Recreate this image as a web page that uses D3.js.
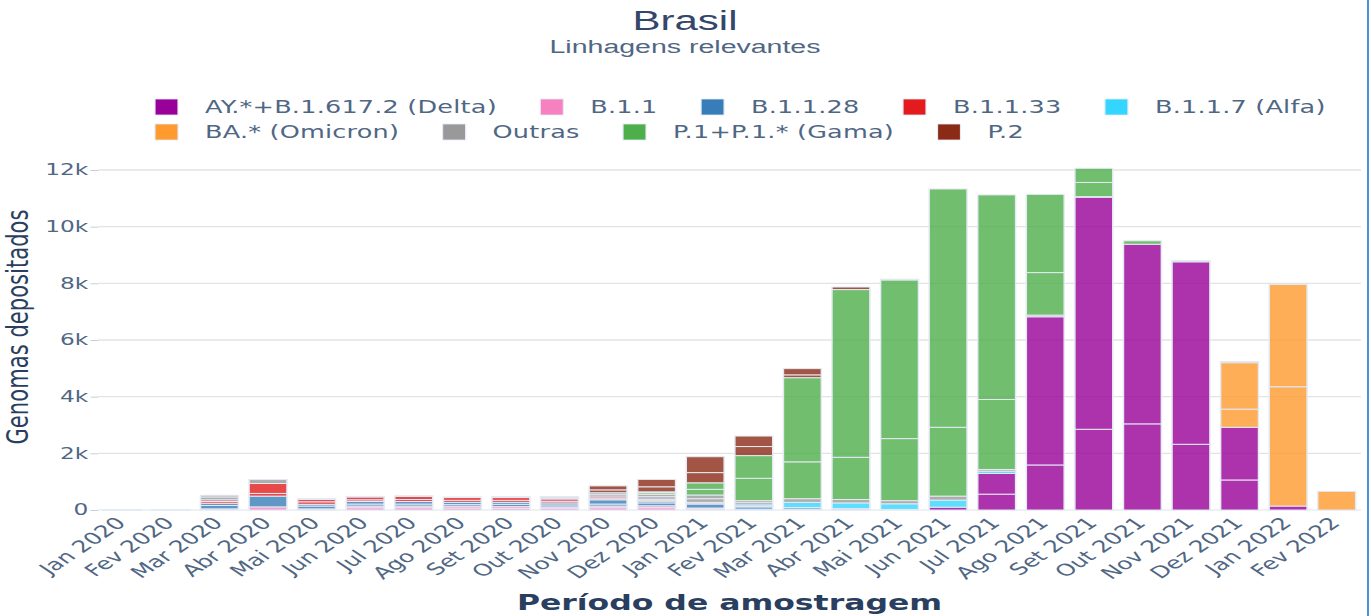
<!DOCTYPE html>
<html><head><meta charset="utf-8">
<script src="https://cdn.jsdelivr.net/npm/d3@7"></script>
<style>body{margin:0;background:#fff;overflow:hidden} svg{display:block}</style>
</head><body>
<svg id="chart" width="1370" height="616"></svg>
<script>
const months = ["Jan 2020","Fev 2020","Mar 2020","Abr 2020","Mai 2020","Jun 2020","Jul 2020","Ago 2020","Set 2020","Out 2020","Nov 2020","Dez 2020","Jan 2021","Fev 2021","Mar 2021","Abr 2021","Mai 2021","Jun 2021","Jul 2021","Ago 2021","Set 2021","Out 2021","Nov 2021","Dez 2021","Jan 2022","Fev 2022"];
const lineages = ["AY.*+B.1.617.2 (Delta)","B.1.1","B.1.1.28","B.1.1.33","B.1.1.7 (Alfa)","BA.* (Omicron)","Outras","P.1+P.1.* (Gama)","P.2"];
const colors = ["#990099","#f781bf","#377eb8","#e41a1c","#33d6ff","#ff9a2e","#999999","#4daf4a","#8b2b16"];
// each month: pieces stacked in order (values = genomes)
const delta  = [[],[],[],[],[],[],[],[],[],[],[],[],[],[],[],[],[],[100],[560,730],[1590,5230],[2850,8190],[3040,6340],[2320,6440],[1060,1860],[140],[]];
const b11    = [[5],[5],[40],[110],[40],[80,60],[80,60],[70,60],[60,60],[60,50],[80,60],[80,70],[40,30],[30],[20],[10],[],[],[],[],[],[],[],[],[],[]];
const b1128  = [[5],[10],[120,80],[380],[100,60],[70,90],[70,90],[60,80],[80,70],[70,70],[70,150],[100,60],[140],[80],[60],[40],[20],[],[],[],[],[],[],[],[],[]];
const b1133  = [[],[],[60,60],[95,350],[90,80],[60,100],[70,110],[70,100],[70,100],[60,80],[40,60],[40,30],[40],[20],[10],[],[],[],[],[],[],[],[],[],[],[]];
const b117   = [[],[],[],[],[],[],[],[],[],[],[],[],[20],[50],[180],[200],[200],[250],[80],[],[],[],[],[],[],[]];
const ba     = [[],[],[],[],[],[],[],[],[],[],[],[],[],[],[],[],[],[],[],[],[],[],[],[640,1640],[4210,3610],[660]];
const outras = [[5],[5],[100,60],[140],[30],[20],[20],[20],[30],[40,40],[80,70],[90,80],[130,130],[80,70],[130],[120],[110],[140],[60],[60],[20],[],[40],[40],[],[]];
const p1     = [[],[],[],[],[],[],[],[],[],[],[],[60,30],[200,230],[790,800],[1300,2970],[1490,5920],[2190,5600],[2430,8410],[2470,7220],[1500,2760],[500,500],[120],[],[],[],[]];
const p2     = [[],[],[],[],[],[],[],[],[],[],[100,140],[180,260],[360,560],[320,370],[100,220],[90],[30],[],[],[],[],[],[],[],[],[]];
const yTicks = [0,2000,4000,6000,8000,10000,12000];
const yTickLabels = ["0","2k","4k","6k","8k","10k","12k"];

const series = [delta,b11,b1128,b1133,b117,ba,outras,p1,p2];
const K = 1.5;               // horizontal stretch of the picture
const W = 1370 / K, H = 616;
const svg = d3.select("#chart").attr("viewBox", `0 0 ${W} ${H}`).attr("preserveAspectRatio","none");
const plotL = 98 / K, plotR = 1361 / K, plotB = 510, plotT = 170;

const x = d3.scaleBand().domain(months).range([plotL, plotR]).paddingInner(0.22).paddingOuter(0.11);
const y = d3.scaleLinear().domain([0, 12000]).range([plotB, plotT]);

// grid
svg.append("g").selectAll("line").data(yTicks).join("line")
  .attr("x1", plotL).attr("x2", plotR)
  .attr("y1", d => y(d)).attr("y2", d => y(d))
  .attr("stroke", d => d === 0 ? "#e8ecf3" : "#e3e3e3").attr("stroke-width", 1.3);

// y ticks
const yAxis = svg.append("g").attr("transform", `translate(${plotL},0)`)
  .call(d3.axisLeft(y).tickValues(yTicks).tickFormat((d,i) => yTickLabels[i]).tickSize(5).tickPadding(1.5));
yAxis.select(".domain").remove();
yAxis.selectAll("line").attr("stroke", "#c8ccd4");
yAxis.selectAll("text").attr("font-family", "DejaVu Sans").attr("font-size", 15.5).attr("fill", "#506784");

// segments
const segs = [];
months.forEach((m, i) => {
  let cum = 0;
  series.forEach((s, li) => {
    s[i].forEach(v => { segs.push({m, li, y0: cum, y1: cum + v}); cum += v; });
  });
});
svg.append("g").selectAll("rect").data(segs).join("rect")
  .attr("x", d => x(d.m)).attr("width", x.bandwidth())
  .attr("y", d => y(d.y1)).attr("height", d => Math.max(0, y(d.y0) - y(d.y1)))
  .attr("fill", d => colors[d.li]).attr("fill-opacity", 0.8)
  .attr("stroke", "#e4eaf4").attr("stroke-width", 1);

// x tick labels
const xAxis = svg.append("g").attr("transform", `translate(0,${plotB})`)
  .call(d3.axisBottom(x).tickSize(0).tickPadding(0));
xAxis.select(".domain").remove();
xAxis.selectAll("text")
  .attr("font-family", "DejaVu Sans").attr("font-size", 16.5).attr("fill", "#506784")
  .attr("text-anchor", "end").attr("y", 0).attr("dy", 0)
  .attr("transform", "translate(3,14) rotate(-45)");

// titles
svg.append("text").attr("x", W/2).attr("y", 30).attr("text-anchor","middle")
  .attr("font-family","Liberation Sans").attr("font-size",28).attr("fill","#34466a").text("Brasil");
svg.append("text").attr("x", W/2).attr("y", 53).attr("text-anchor","middle")
  .attr("font-family","Liberation Sans").attr("font-size",19).attr("fill","#506784").text("Linhagens relevantes");
svg.append("text").attr("x", (plotL+plotR)/2).attr("y", 610).attr("text-anchor","middle")
  .attr("font-family","DejaVu Sans").attr("font-weight","bold").attr("font-size",21).attr("fill","#2a3f5f")
  .text("Período de amostragem");
svg.append("text").attr("transform", `translate(${28/K},327) rotate(-90)`).attr("text-anchor","middle")
  .attr("font-family","DejaVu Sans").attr("font-size",19.5).attr("fill","#2a3f5f")
  .attr("textLength", 235).attr("lengthAdjust","spacingAndGlyphs")
  .text("Genomas depositados");

// legend
const rows = [[0,1,2,3,4],[5,6,7,8]];
const rowY = [107, 132];
rows.forEach((r, ri) => {
  let cx = 155 / K;
  r.forEach(li => {
    const g = svg.append("g").attr("transform", `translate(${cx},${rowY[ri]})`);
    g.append("rect").attr("x", 0).attr("y", -8).attr("width", 23/K).attr("height", 16)
      .attr("fill", colors[li]).attr("stroke","#e4eaf4").attr("stroke-width",0.8);
    const t = g.append("text").attr("x", 50/K).attr("y", 6).attr("font-family","DejaVu Sans")
      .attr("font-size", 17).attr("letter-spacing", 0.15).attr("fill","#506784").text(lineages[li]);
    cx += 50/K + t.node().getComputedTextLength() + 29;
  });
});

// right frame line
svg.append("line").attr("x1", 1368/K).attr("x2", 1368/K).attr("y1", 0).attr("y2", H)
  .attr("stroke", "#4a8fd6").attr("stroke-width", 1.3);
</script>
</body></html>
